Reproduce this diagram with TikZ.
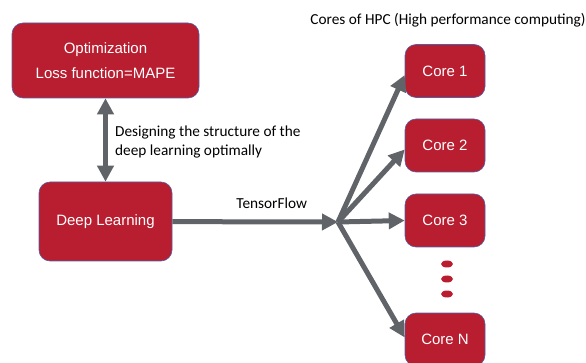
\documentclass[tikz,border=0pt]{standalone}
\usepackage{fontspec}
\setmainfont{Carlito}
\newfontfamily\boxfont{Liberation Sans}
\usetikzlibrary{arrows.meta}
\definecolor{boxred}{RGB}{184,29,48}
\definecolor{boxline}{RGB}{85,95,165}
\definecolor{arrowgray}{RGB}{96,100,104}
\tikzset{
  redbox/.style={draw=boxline,line width=0.6pt,fill=boxred,rounded corners=11pt,text=white,
    font=\boxfont\fontsize{15}{25}\selectfont,align=center,inner sep=0pt},
  corebox/.style={redbox,minimum width=80pt,minimum height=53pt},
  flow/.style={draw=arrowgray,line width=5pt},
  note/.style={font=\fontsize{15.3}{19.5}\selectfont,inner sep=0pt},
}

\begin{document}
\begin{tikzpicture}[x=1pt,y=-1pt,>={Triangle[length=16pt,width=16pt]}]
\useasboundingbox (0,0) rectangle (586,363);
\node[redbox,minimum width=187pt,minimum height=75pt](opt) at (105.5,60.5) {Optimization\\Loss function=MAPE};
\node[redbox,minimum width=133pt,minimum height=79pt](dl) at (105.5,221.5) {Deep Learning};
\node[corebox](c1) at (445,71) {Core 1};
\node[corebox](c2) at (445,145.5) {Core 2};
\node[corebox](c3) at (445,220.5) {Core 3};
\node[corebox](cN) at (445,339.5) {Core N};
\coordinate (hub) at (338,222);

\node[note](title) at (448,20) {Cores of HPC (High performance computing)};
\node[note,align=left,anchor=west](desc) at (115,142) {Designing the structure of the\\deep learning optimally};

\foreach \y in {264,279,294}
  \fill[boxred] (447,\y) ellipse (6pt and 3.5pt);

\draw[flow,<->] (opt) -- (dl);
\draw[flow,->] (dl) -- node[note,above=11pt,pos=.6]{TensorFlow} (hub);
\draw[flow,->] (hub) -- ([yshift=-4pt]c1.west);
\draw[flow,->] (hub) -- ([yshift=-4pt]c2.west);
\draw[flow,->] (hub) -- (c3.west);
\draw[flow,->] (hub) -- ([yshift=2pt]cN.west);
\end{tikzpicture}
\end{document}
